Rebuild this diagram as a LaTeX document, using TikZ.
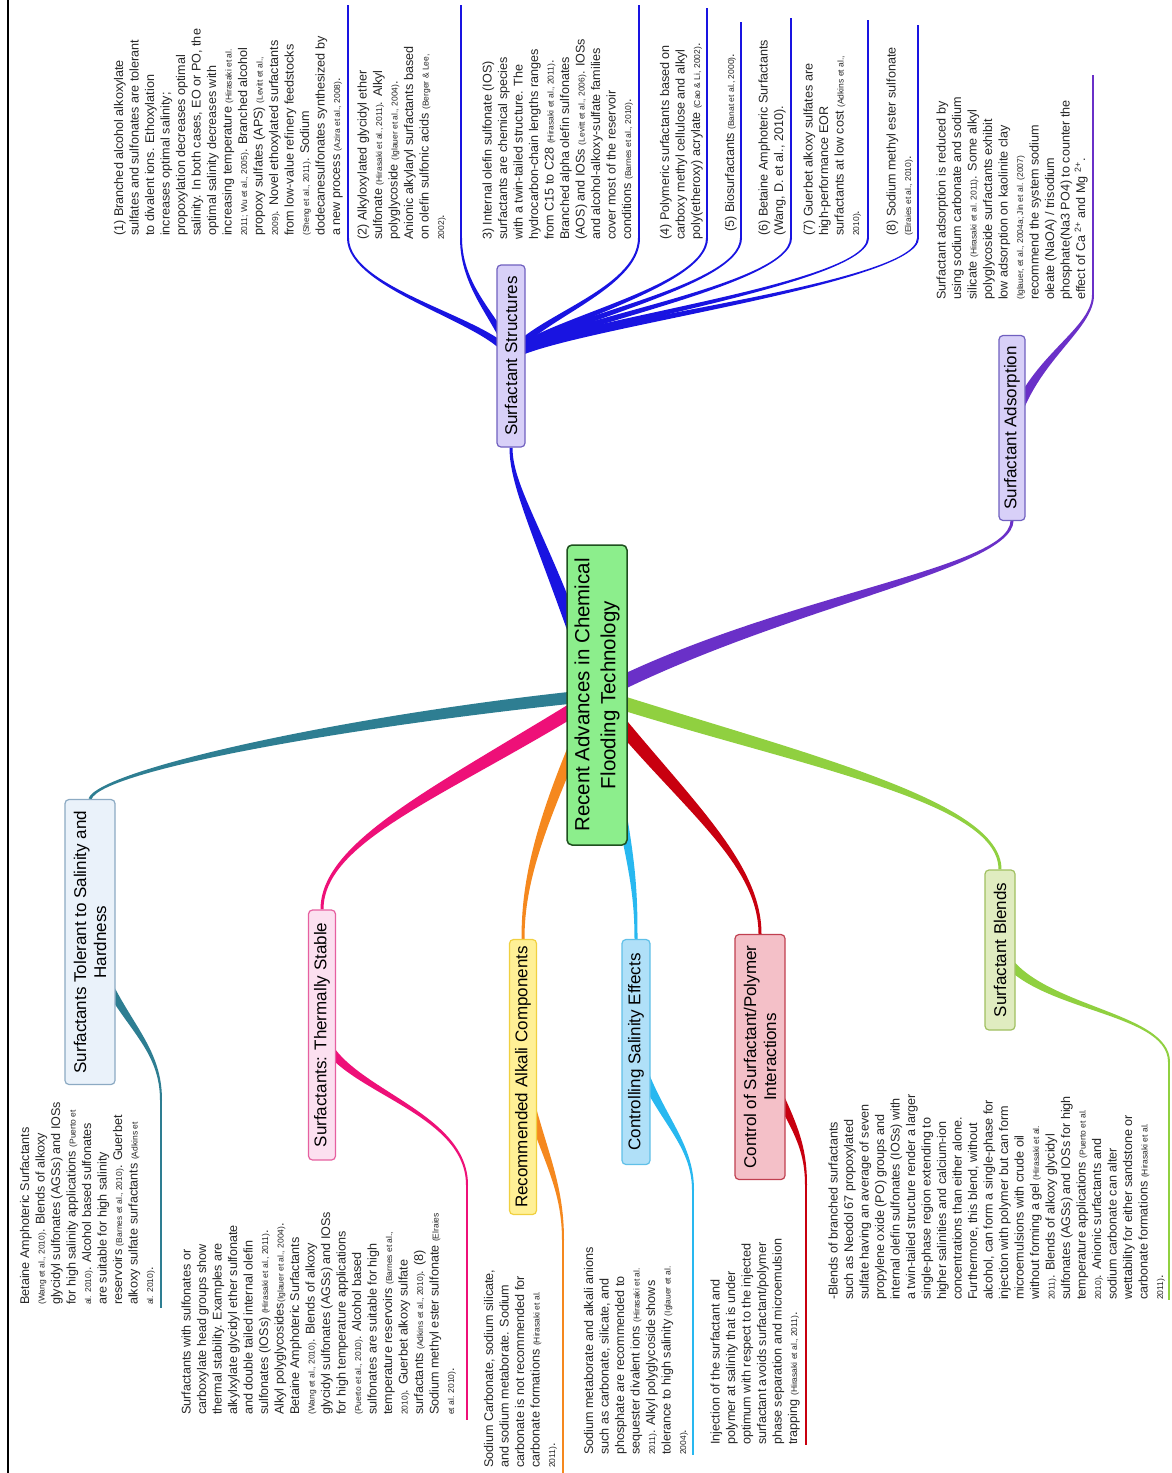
\documentclass[tikz,border=0pt]{standalone}
\usepackage{fontspec}
\setmainfont{Liberation Sans}
\usetikzlibrary{calc,backgrounds}
\definecolor{cBlue}{RGB}{25,20,225}
\definecolor{cPurple}{RGB}{106,48,200}
\definecolor{cTeal}{RGB}{46,126,146}
\definecolor{cMag}{RGB}{238,16,120}
\definecolor{cOrange}{RGB}{245,136,30}
\definecolor{cCyan}{RGB}{40,184,240}
\definecolor{cRed}{RGB}{200,0,15}
\definecolor{cLime}{RGB}{144,208,64}
\definecolor{cGreen}{RGB}{140,238,140}
\definecolor{cGreenD}{RGB}{30,80,30}
\definecolor{fLav}{RGB}{216,208,248}
\definecolor{dLav}{RGB}{112,96,192}
\definecolor{fTol}{RGB}{234,242,250}
\definecolor{dTol}{RGB}{140,170,195}
\definecolor{fPink}{RGB}{252,224,240}
\definecolor{dPink}{RGB}{230,96,160}
\definecolor{fYel}{RGB}{255,240,150}
\definecolor{dYel}{RGB}{240,208,64}
\definecolor{fCyan}{RGB}{176,224,248}
\definecolor{dCyan}{RGB}{96,192,232}
\definecolor{fRose}{RGB}{244,192,200}
\definecolor{dRose}{RGB}{192,64,80}
\definecolor{fOlive}{RGB}{224,236,192}
\definecolor{dOlive}{RGB}{160,192,96}
\newcommand{\mycite}[1]{{\fontsize{8.5}{8.5}\selectfont #1}}
\newcommand{\mybranch}[7]{%
  \fill[#1] ($(#2)!#6!90:(#3)$) .. controls ($(#3)!#6!-90:(#2)$) and ($(#4)!#7!90:(#5)$) .. ($(#5)!#7!-90:(#4)$)
   -- ($(#5)!#7!90:(#4)$) .. controls ($(#4)!#7!-90:(#5)$) and ($(#3)!#6!90:(#2)$) .. ($(#2)!#6!-90:(#3)$) -- cycle;}
\tikzset{
  txt/.style={rotate=90, anchor=south west, align=left, inner sep=0pt,
    font=\fontsize{12.6}{15.5}\selectfont, text=black!85},
  sub/.style={rotate=90, draw, rounded corners=4pt, align=center, line width=1.2pt,
    font=\fontsize{17}{20}\selectfont, inner sep=2pt},
  uline/.style={line width=1.5pt}
}
\begin{document}
\begin{tikzpicture}[x=1pt,y=-1pt]
\useasboundingbox (0,0) rectangle (1172,1473);
% ---------- main nodes ----------
\node[rotate=90, draw=cGreenD, fill=cGreen, line width=1.5pt, rounded corners=5pt,
  minimum width=300pt, minimum height=60pt, align=center,
  font=\fontsize{20.5}{26}\selectfont] (c) at (597,695) {Recent Advances in Chemical\\Flooding Technology};
\node[sub, fill=fLav, draw=dLav, minimum width=182pt, minimum height=28pt] (ss) at (511,356) {Surfactant Structures};
\node[sub, fill=fLav, draw=dLav, minimum width=185pt, minimum height=26pt] (sa) at (1012,428) {Surfactant Adsorption};
\node[sub, fill=fTol, draw=dTol, minimum width=285pt, minimum height=50pt] (tol) at (90,942) {Surfactants Tolerant to Salinity and\\Hardness};
\node[sub, fill=fPink, draw=dPink, minimum width=250pt, minimum height=27pt] (th) at (322,1035) {Surfactants: Thermally Stable};
\node[sub, fill=fYel, draw=dYel, minimum width=275pt, minimum height=27pt] (alk) at (523,1077) {Recommended Alkali Components};
\node[sub, fill=fCyan, draw=dCyan, minimum width=225pt, minimum height=28pt] (sal) at (636,1052) {Controlling Salinity Effects};
\node[sub, fill=fRose, draw=dRose, minimum width=245pt, minimum height=50pt] (sp) at (760,1057) {Control of Surfactant/Polymer\\Interactions};
\node[sub, fill=fOlive, draw=dOlive, minimum width=160pt, minimum height=30pt] (bl) at (1000,950) {Surfactant Blends};
% ---------- coordinates of text underlines ----------
\coordinate (b1) at (348,238); \coordinate (b1t) at (348,5);
\coordinate (b2) at (461,238); \coordinate (b2t) at (461,5);
\coordinate (b3) at (639,238); \coordinate (b3t) at (639,5);
\coordinate (b4) at (707,238); \coordinate (b4t) at (707,8);
\coordinate (b5) at (741,238); \coordinate (b5t) at (741,22);
\coordinate (b6) at (791,238); \coordinate (b6t) at (791,18);
\coordinate (b7) at (868,238); \coordinate (b7t) at (868,20);
\coordinate (b8) at (918,238); \coordinate (b8t) at (918,25);
\coordinate (a1) at (1093,295); \coordinate (a1t) at (1093,75);
\coordinate (tl) at (161,1100); \coordinate (tlb) at (161,1308);
\coordinate (tm) at (467,1185); \coordinate (tmb) at (467,1420);
\coordinate (al) at (563,1240); \coordinate (alb) at (563,1473);
\coordinate (sl) at (693,1190); \coordinate (slb) at (693,1455);
\coordinate (pl) at (806,1185); \coordinate (plb) at (806,1445);
\coordinate (bll) at (1169,1062); \coordinate (bllb) at (1169,1300);
% ---------- text blocks ----------
\node[txt] (t1) at (343,236) {(1) Branched alcohol alkoxylate\\
sulfates and sulfonates are tolerant\\
to divalent ions. Ethoxylation\\
increases optimal salinity;\\
propoxylation decreases optimal\\
salinity. In both cases, EO or PO, the\\
optimal salinity decreases with\\
increasing temperature \mycite{(Hirasaki et al.}\\
\mycite{2011; Wu et al., 2005)}. Branched alcohol\\
propoxy sulfates (APS) \mycite{(Levitt et al.,}\\
\mycite{2009)}. Novel ethoxylated surfactants\\
from low-value refinery feedstocks\\
\mycite{(Sheng et al., 2011)}. Sodium\\
dodecanesulfonates synthesized by\\
a new process \mycite{(Azira et al., 2008)}.};
\node[txt] (t2) at (446,240) {(2) Alkyloxylated glycidyl ether\\
sulfonate \mycite{(Hirasaki et al., 2011)}. Alkyl\\
polyglycoside \mycite{(Iglauer et al., 2004)}.\\
Anionic alkylaryl surfactants based\\
on olefin sulfonic acids \mycite{(Berger \& Lee,}\\
\mycite{2002)}.};
\node[txt] (t3) at (633,240) {3) Internal olefin sulfonate (IOS)\\
surfactants are chemical species\\
with a twin-tailed structure. The\\
hydrocarbon-chain lengths ranges\\
from C15 to C28 \mycite{(Hirasaki et al., 2011)}.\\
Branched alpha olefin sulfonates\\
(AOS) and IOSs \mycite{(Levitt et al., 2006)}. IOSs\\
and alcohol-alkoxy-sulfate families\\
cover most of the reservoir\\
conditions \mycite{(Barnes et al., 2010)}.};
\node[txt] (t4) at (703,240) {(4) Polymeric surfactants based on\\
carboxy methyl cellulose and alkyl\\
poly(etheroxy) acrylate \mycite{(Cao \& Li, 2002)}.};
\node[txt] (t5) at (737,232) {(5) Biosurfactants \mycite{(Banat et al., 2000)}.};
\node[txt] (t6) at (786,236) {(6) Betaine Amphoteric Surfactants\\
(Wang, D. et al., 2010).};
\node[txt] (t7) at (861,236) {(7) Guerbet alkoxy sulfates are\\
high-performance EOR\\
surfactants at low cost \mycite{(Adkins et al.,}\\
\mycite{2010)}.};
\node[txt] (t8) at (913,236) {(8) Sodium methyl ester sulfonate\\
\mycite{(Elraies et al., 2010)}.};
\node[txt] (t9) at (1088,300) {Surfactant adsorption is reduced by\\
using sodium carbonate and sodium\\
silicate \mycite{(Hirasaki et al. 2011)}. Some alkyl\\
polyglycoside surfactants exhibit\\
low adsorption on kaolinite clay\\
\mycite{(Iglauer, et al., 2004a; Jin et al. (2007)}\\
recommend the system sodium\\
oleate (NaOA) / trisodium\\
phosphate(Na3 PO4) to counter the\\
effect of Ca \textsuperscript{2+} and Mg \textsuperscript{2+}.};
\node[txt] (t10) at (155,1305) {Betaine Amphoteric Surfactants\\
\mycite{(Wang et al., 2010)}. Blends of alkoxy\\
glycidyl sulfonates (AGSs) and IOSs\\
for high salinity applications \mycite{(Puerto et}\\
\mycite{al. 2010)}. Alcohol based sulfonates\\
are suitable for high salinity\\
reservoirs \mycite{(Barnes et al., 2010)}. Guerbet\\
alkoxy sulfate surfactants \mycite{(Adkins et}\\
\mycite{al. 2010)}.};
\node[txt] (t11) at (456,1415) {Surfactants with sulfonates or\\
carboxylate head groups show\\
thermal stability. Examples are\\
alkylxylate glycidyl ether sulfonate\\
and double tailed internal olefin\\
sulfonates (IOSs) \mycite{(Hirasaki et al., 2011)}.\\
Alkyl polyglycosides\mycite{(Iglauer et al., 2004)}.\\
Betaine Amphoteric Surfactants\\
\mycite{(Wang et al., 2010)}. Blends of alkoxy\\
glycidyl sulfonates (AGSs) and IOSs\\
for high temperature applications\\
\mycite{(Puerto et al., 2010)}. Alcohol based\\
sulfonates are suitable for high\\
temperature reservoirs \mycite{(Barnes et al.,}\\
\mycite{2010)}. Guerbet alkoxy sulfate\\
surfactants \mycite{(Adkins et al., 2010)}. (8)\\
Sodium methyl ester sulfonate \mycite{(Elraies}\\
\mycite{et al. 2010)}.};
\node[txt] (t12) at (557,1468) {Sodium Carbonate, sodium silicate,\\
and sodium metaborate. Sodium\\
carbonate is not recommended for\\
carbonate formations \mycite{(Hirasaki et al.}\\
\mycite{2011)}.};
\node[txt] (t13) at (688,1455) {Sodium metaborate and alkali anions\\
such as carbonate, silicate, and\\
phosphate are recommended to\\
sequester divalent ions \mycite{(Hirasaki et al.}\\
\mycite{2011)}. Alkyl polyglycoside shows\\
tolerance to high salinity \mycite{(Iglauer et al.}\\
\mycite{2004)}.};
\node[txt] (t14) at (800,1445) {Injection of the surfactant and\\
polymer at salinity that is under\\
optimum with respect to the injected\\
surfactant avoids surfactant/polymer\\
phase separation and microemulsion\\
trapping \mycite{(Hirasaki et al., 2011)}.};
\node[txt] (t15) at (1165,1300) {-Blends of branched surfactants\\
such as Neodol 67 propoxylated\\
sulfate having an average of seven\\
propylene oxide (PO) groups and\\
internal olefin sulfonates (IOSs) with\\
a twin-tailed structure render a larger\\
single-phase region extending to\\
higher salinities and calcium-ion\\
concentrations than either alone.\\
Furthermore, this blend, without\\
alcohol, can form a single-phase for\\
injection with polymer but can form\\
microemulsions with crude oil\\
without forming a gel \mycite{(Hirasaki et al.}\\
\mycite{2011)}. Blends of alkoxy glycidyl\\
sulfonates (AGSs) and IOSs for high\\
temperature applications \mycite{(Puerto et al.}\\
\mycite{2010)}. Anionic surfactants and\\
sodium carbonate can alter\\
wettability for either sandstone or\\
carbonate formations \mycite{(Hirasaki et al.}\\
\mycite{2011)}.};
% ---------- connectors (behind nodes) ----------
\begin{pgfonlayer}{background}
\fill[white] (0,0) rectangle (1172,1473);
\draw[line width=2pt] (8,0) -- (8,1473);
% main branches
\mybranch{cBlue}{c.center}{545,540}{511,490}{ss.west}{7pt}{1.5pt}
\mybranch{cPurple}{c.center}{780,600}{1010,570}{sa.west}{7pt}{1.5pt}
\mybranch{cTeal}{c.center}{350,720}{100,770}{tol.east}{6pt}{1.5pt}
\mybranch{cMag}{c.center}{445,790}{322,840}{th.east}{7pt}{1.5pt}
\mybranch{cOrange}{c.center}{540,820}{523,880}{alk.east}{6pt}{1.5pt}
\mybranch{cCyan}{c.center}{630,850}{636,880}{sal.east}{6pt}{1.5pt}
\mybranch{cRed}{c.center}{680,800}{760,860}{sp.east}{7pt}{1.5pt}
\mybranch{cLime}{c.center}{800,760}{1000,800}{bl.east}{7pt}{1.5pt}
% surfactant structures fan
\mybranch{cBlue}{ss.center}{490,320}{348,290}{b1}{4pt}{1pt}
\mybranch{cBlue}{ss.center}{500,320}{461,290}{b2}{4pt}{1pt}
\mybranch{cBlue}{ss.center}{530,320}{639,290}{b3}{4pt}{1pt}
\mybranch{cBlue}{ss.center}{540,322}{707,288}{b4}{4pt}{1pt}
\mybranch{cBlue}{ss.center}{545,322}{741,288}{b5}{4pt}{1pt}
\mybranch{cBlue}{ss.center}{550,324}{791,286}{b6}{4pt}{1pt}
\mybranch{cBlue}{ss.center}{555,325}{868,285}{b7}{4pt}{1pt}
\mybranch{cBlue}{ss.center}{560,326}{918,285}{b8}{4pt}{1pt}
\foreach \p in {b1,b2,b3,b4,b5,b6,b7,b8}{\draw[cBlue,uline] (\p) -- (\p t);}
% adsorption
\mybranch{cPurple}{sa.center}{1030,360}{1093,330}{a1}{5pt}{1pt}
\draw[cPurple,uline] (a1) -- (a1t);
% lower sub-branches
\mybranch{cTeal}{tol.center}{115,1020}{161,1040}{tl}{5pt}{1pt}
\draw[cTeal,uline] (tl) -- (tlb);
\mybranch{cMag}{th.center}{340,1090}{467,1110}{tm}{5pt}{1pt}
\draw[cMag,uline] (tm) -- (tmb);
\mybranch{cOrange}{alk.center}{540,1150}{563,1180}{al}{5pt}{1pt}
\draw[cOrange,uline] (al) -- (alb);
\mybranch{cCyan}{sal.center}{655,1115}{693,1140}{sl}{5pt}{1pt}
\draw[cCyan,uline] (sl) -- (slb);
\mybranch{cRed}{sp.center}{790,1120}{806,1140}{pl}{5pt}{1pt}
\draw[cRed,uline] (pl) -- (plb);
\mybranch{cLime}{bl.center}{1030,1010}{1169,1010}{bll}{5pt}{1pt}
\draw[cLime,uline] (bll) -- (bllb);
\end{pgfonlayer}
\end{tikzpicture}
\end{document}
